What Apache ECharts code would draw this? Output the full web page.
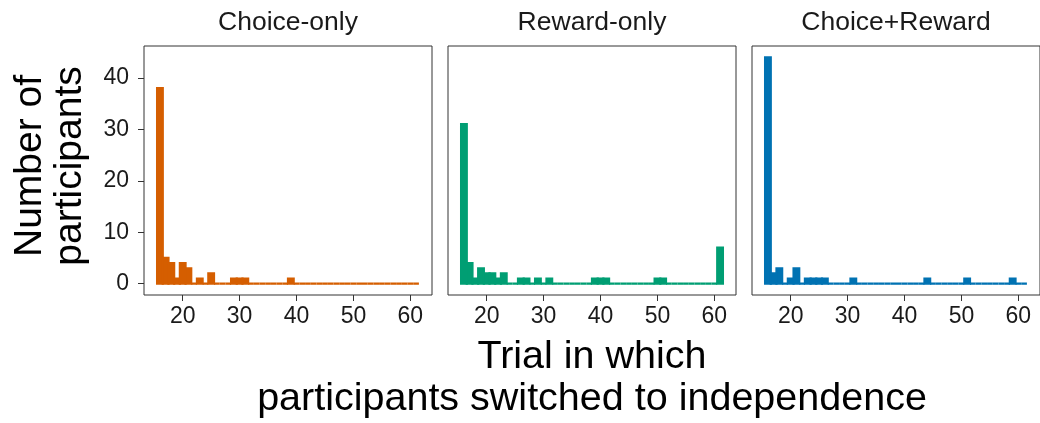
<!DOCTYPE html>
<html>
<head>
<meta charset="utf-8">
<script src="https://cdn.jsdelivr.net/npm/echarts@6/dist/echarts.min.js"></script>
<style>
html,body{margin:0;padding:0;background:#fff;}
#chart{width:1040px;height:423px;}
</style>
</head>
<body>
<div id="chart"></div>
<script>
// ---- data ----
const panelTitles = ["Choice-only", "Reward-only", "Choice+Reward"];
const panelColors = ["#D55E00", "#009E73", "#0072B2"];
const trials = [16,17,18,19,20,21,22,23,24,25,26,27,28,29,30,31,32,33,34,35,36,37,38,39,40,41,42,43,44,45,46,47,48,49,50,51,52,53,54,55,56,57,58,59,60,61];
const choiceOnly   = [38,5,4,1,4,3,0,1,0,2, 0,0,0,1,1,1,0,0,0,0, 0,0,0,1,0,0,0,0,0,0, 0,0,0,0,0,0,0,0,0,0, 0,0,0,0,0,0];
const rewardOnly   = [31,4,1,3,2,2,1,2,0,0, 1,1,0,1,0,1,0,0,0,0, 0,0,0,1,1,1,0,0,0,0, 0,0,0,0,1,1,0,0,0,0, 0,0,0,0,0,7];
const choiceReward = [44,2,3,0,1,3,0,1,1,1, 1,0,0,0,0,1,0,0,0,0, 0,0,0,0,0,0,0,0,1,0, 0,0,0,0,0,1,0,0,0,0, 0,0,0,1,0,0];
const xTicks = [20,30,40,50,60];
const yTicks = [0,10,20,30,40];
const xTitle = "Trial in which\nparticipants switched to independence";
const yTitle = "Number of\nparticipants";

const panelData = [choiceOnly, rewardOnly, choiceReward];
const FONT = "Liberation Sans, Arial, Helvetica, sans-serif";

const chart = echarts.init(document.getElementById('chart'), null, {renderer: 'canvas'});

const lefts = [144, 448, 752];
const grids = lefts.map(l => ({
  left: l, top: 46, width: 288, height: 249,
  show: true, borderColor: '#333', borderWidth: 1, backgroundColor: '#fff'
}));

const xAxes = lefts.map((l, i) => ({
  type: 'value', gridIndex: i, min: 13.2, max: 63.8,
  axisLine: {show: false, onZero: false},
  splitLine: {show: false},
  axisTick: {show: true, length: 6, lineStyle: {color: '#333', width: 1}, customValues: xTicks},
  axisLabel: {show: true, margin: 10, fontSize: 23, color: '#1a1a1a', fontFamily: FONT, customValues: xTicks}
}));

const yAxes = lefts.map((l, i) => ({
  type: 'value', gridIndex: i, min: -2.2, max: 46.2,
  axisLine: {show: false, onZero: false},
  splitLine: {show: false},
  axisTick: {show: i === 0, length: 6, lineStyle: {color: '#333', width: 1}, customValues: yTicks},
  axisLabel: {show: i === 0, margin: 15, fontSize: 23, color: '#1a1a1a', fontFamily: FONT, customValues: yTicks}
}));

const series = panelData.map((vals, i) => ({
  type: 'custom',
  xAxisIndex: i, yAxisIndex: i,
  data: trials.map((t, k) => [t, vals[k]]),
  renderItem: function (params, api) {
    const t = api.value(0), c = api.value(1);
    const pTop = api.coord([t - 0.5, c]);
    const pBot = api.coord([t + 0.5, 0]);
    return {
      type: 'rect',
      shape: {x: pTop[0], y: pTop[1], width: pBot[0] - pTop[0], height: pBot[1] - pTop[1]},
      style: {fill: panelColors[i], stroke: panelColors[i], lineWidth: 2.2}
    };
  },
  animation: false
}));

const graphics = [];
panelTitles.forEach((t, i) => {
  graphics.push({
    type: 'text', x: lefts[i] + 144, y: 23,
    style: {text: t, font: '26.5px ' + FONT, fill: '#1a1a1a', textAlign: 'center', textVerticalAlign: 'middle'}
  });
});
graphics.push({
  type: 'text', x: 592, y: 378,
  style: {text: xTitle, font: '39.5px ' + FONT, fill: '#000', textAlign: 'center', textVerticalAlign: 'middle', lineHeight: 42}
});
graphics.push({
  type: 'text', x: 50, y: 166, rotation: Math.PI / 2,
  style: {text: yTitle, font: '39px ' + FONT, fill: '#000', textAlign: 'center', textVerticalAlign: 'middle', lineHeight: 40}
});

chart.setOption({
  backgroundColor: '#fff',
  animation: false,
  grid: grids,
  xAxis: xAxes,
  yAxis: yAxes,
  series: series,
  graphic: graphics
});
</script>
</body>
</html>
